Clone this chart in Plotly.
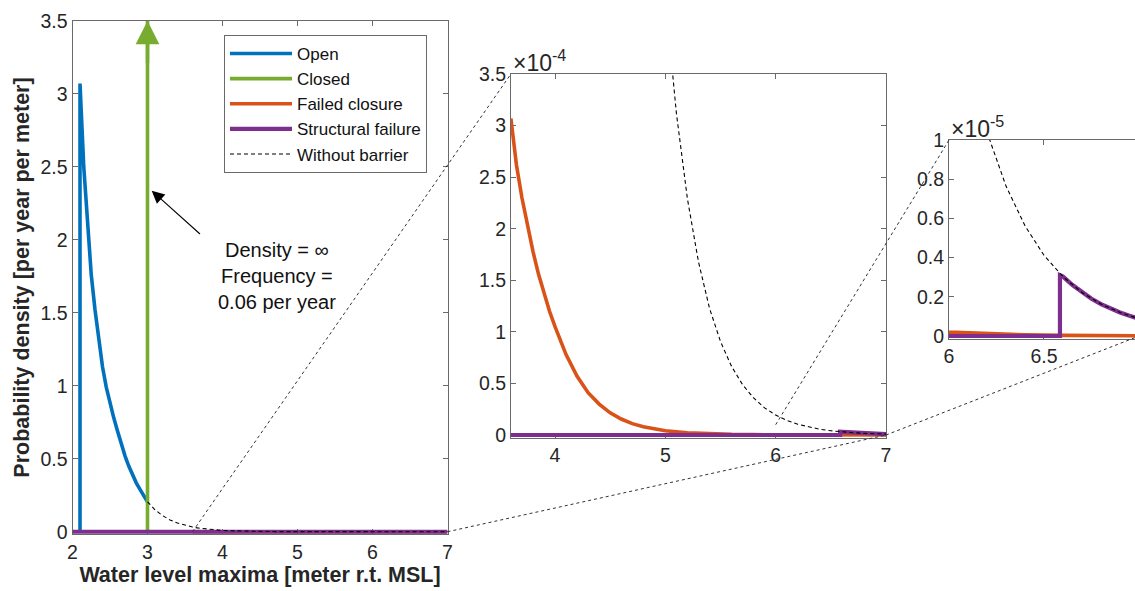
import plotly.graph_objects as go

FONT = "Liberation Sans, Arial, Helvetica, sans-serif"
W, H = 1135, 591

# ---------------- data ----------------
open_x = [2.10, 2.10, 2.15, 2.20, 2.25, 2.30, 2.35, 2.40, 2.45, 2.50, 2.55,
          2.60, 2.65, 2.70, 2.75, 2.80, 2.85, 2.90, 2.95, 3.00]
open_y = [0.0, 3.07, 2.50, 2.08, 1.76, 1.52, 1.30, 1.13, 0.99, 0.88, 0.78,
          0.69, 0.60, 0.52, 0.45, 0.39, 0.335, 0.29, 0.245, 0.205]

closed_x = [3.0, 3.0]
closed_y = [0.0, 3.5]

failed_x = [3.60, 3.65, 3.70, 3.75, 3.80, 3.85, 3.90, 3.95, 4.00, 4.10, 4.20,
            4.30, 4.40, 4.50, 4.60, 4.70, 4.80, 4.90, 5.00, 5.20, 5.40, 5.60,
            5.80, 6.00, 6.20, 6.40, 6.60, 6.80, 7.00]
failed_y = [3.07e-4, 2.62e-4, 2.30e-4, 2.02e-4, 1.78e-4, 1.56e-4, 1.37e-4,
            1.20e-4, 1.05e-4, 0.78e-4, 0.57e-4, 0.41e-4, 0.30e-4, 0.215e-4,
            0.155e-4, 0.11e-4, 0.08e-4, 0.057e-4, 0.041e-4, 0.021e-4,
            0.011e-4, 0.0060e-4, 0.0034e-4, 0.0020e-4, 0.0011e-4, 0.0006e-4,
            0.00032e-4, 0.00017e-4, 0.00009e-4]

struct_x = [2.0, 6.584, 6.584, 6.60, 6.65, 6.70, 6.75, 6.80, 6.85, 6.90, 6.95, 7.00]
struct_y = [0.0, 0.0, 3.10e-6, 3.03e-6, 2.60e-6, 2.22e-6, 1.90e-6, 1.63e-6,
            1.40e-6, 1.20e-6, 1.03e-6, 0.88e-6]

nobar_x = [3.0, 3.1, 3.2, 3.3, 3.4, 3.5, 3.6, 3.7, 3.8, 3.9, 4.0, 4.1, 4.2,
           4.3, 4.4, 4.5, 4.6, 4.7, 4.8, 4.9, 5.0, 5.1, 5.2, 5.3, 5.4, 5.5,
           5.6, 5.7, 5.8, 5.9, 6.0, 6.1, 6.2, 6.3, 6.4, 6.5, 6.6, 6.7, 6.8,
           6.9, 7.0]
nobar_y = [0.205, 0.1505, 0.1105, 0.0811, 0.0596, 0.0437, 0.0321, 0.0236,
           0.0173, 0.0127, 0.00933, 0.00685, 0.00503, 0.00369, 0.00271,
           0.00199, 0.00146, 0.00107, 7.87e-4, 5.78e-4, 4.24e-4, 3.12e-4,
           2.29e-4, 1.68e-4, 1.23e-4, 9.06e-5, 6.65e-5, 4.88e-5, 3.59e-5,
           2.63e-5, 1.93e-5, 1.42e-5, 1.04e-5, 7.65e-6, 5.62e-6, 4.12e-6,
           3.03e-6, 2.22e-6, 1.63e-6, 1.20e-6, 8.8e-7]

left_xticks = [2, 3, 4, 5, 6, 7]
left_yticks = [0, 0.5, 1, 1.5, 2, 2.5, 3, 3.5]
mid_xticks = [4, 5, 6, 7]
mid_yticks = [0, 0.5e-4, 1e-4, 1.5e-4, 2e-4, 2.5e-4, 3e-4, 3.5e-4]
mid_yticktext = ["0", "0.5", "1", "1.5", "2", "2.5", "3", "3.5"]
right_xticks = [6, 6.5, 7]
right_yticks = [0, 0.2e-5, 0.4e-5, 0.6e-5, 0.8e-5, 1e-5]
right_yticktext = ["0", "0.2", "0.4", "0.6", "0.8", "1"]

series_names = ["Open", "Closed", "Failed closure", "Structural failure", "Without barrier"]
colors = ["#0072BD", "#77AC30", "#D95319", "#7E2F8E", "#000000"]

# ---------------- panel geometry (pixels) ----------------
panels = {
    "1": dict(px=(72.5, 447.5), py=(534.3, 20.7), xr=[2, 7], yr=[-0.0175, 3.5]),
    "2": dict(px=(510.9, 886.0), py=(437.6, 74.0), xr=[3.6, 7], yr=[-0.025e-4, 3.5e-4]),
    "3": dict(px=(949.0, 1135.0), py=(338.5, 140.0), xr=[6, 6.979], yr=[-0.0127e-5, 1e-5]),
}
for p in panels.values():
    p["dx"] = [p["px"][0] / W, p["px"][1] / W]
    p["dy"] = [1 - p["py"][0] / H, 1 - p["py"][1] / H]


def to_paper(key, xv, yv):
    p = panels[key]
    fx = (xv - p["xr"][0]) / (p["xr"][1] - p["xr"][0])
    fy = (yv - p["yr"][0]) / (p["yr"][1] - p["yr"][0])
    return (p["dx"][0] + fx * (p["dx"][1] - p["dx"][0]),
            p["dy"][0] + fy * (p["dy"][1] - p["dy"][0]))


fig = go.Figure()

data = [(open_x, open_y), (closed_x, closed_y), (failed_x, failed_y),
        (struct_x, struct_y), (nobar_x, nobar_y)]

for key in ["1", "2", "3"]:
    xa = "x" if key == "1" else "x" + key
    ya = "y" if key == "1" else "y" + key
    for i, (xs, ys) in enumerate(data):
        if key != "1" and i == 1:
            continue
        if i == 4:
            line = dict(color=colors[i], width=1.1, dash="4px,3px")
        elif i == 3:
            line = dict(color=colors[i], width=4.2)
        else:
            line = dict(color=colors[i], width=3.6)
        fig.add_trace(go.Scatter(
            x=xs, y=ys, mode="lines", line=line, name=series_names[i],
            legendgroup=series_names[i], showlegend=(key == "1"),
            xaxis=xa, yaxis=ya, hoverinfo="skip"))

axis_common = dict(showline=True, linecolor="#6a6a6a", linewidth=1, mirror="ticks",
                   ticks="inside", ticklen=5, tickcolor="#6a6a6a", showgrid=False,
                   zeroline=False, automargin=False, layer="below traces",
                   tickfont=dict(family=FONT, size=19.5, color="#262626"))

p = panels["1"]
fig.update_layout(
    xaxis=dict(domain=p["dx"], range=p["xr"], tickvals=left_xticks, anchor="y",
               title=dict(text="<b>Water level maxima [meter r.t. MSL]</b>", standoff=5,
                          font=dict(family=FONT, size=21.5, color="#262626")),
               **axis_common),
    yaxis=dict(domain=p["dy"], range=p["yr"], tickvals=left_yticks, anchor="x",
               title=dict(text="<b>Probability density [per year per meter]</b>", standoff=4,
                          font=dict(family=FONT, size=21.5, color="#262626")),
               **axis_common),
)
p = panels["2"]
fig.update_layout(
    xaxis2=dict(domain=p["dx"], range=p["xr"], tickvals=mid_xticks, anchor="y2", **axis_common),
    yaxis2=dict(domain=p["dy"], range=p["yr"], tickvals=mid_yticks, ticktext=mid_yticktext,
                anchor="x2", **axis_common),
)
p = panels["3"]
ax3 = dict(axis_common)
ax3["mirror"] = False
fig.update_layout(
    xaxis3=dict(domain=p["dx"], range=p["xr"], tickvals=right_xticks, anchor="y3", **axis_common),
    yaxis3=dict(domain=p["dy"], range=p["yr"], tickvals=right_yticks, ticktext=right_yticktext,
                anchor="x3", **ax3),
)

# ---------------- annotations ----------------
ann = []
# green arrow head on "Closed"
ann.append(dict(x=3.0, y=3.5, ax=3.0, ay=3.2, xref="x", yref="y", axref="x", ayref="y",
                text="", showarrow=True, arrowhead=2, arrowsize=1.35, arrowwidth=3.5,
                arrowcolor=colors[1]))
# black pointer arrow
ann.append(dict(x=3.056, y=2.336, ax=3.72, ay=2.03, xref="x", yref="y", axref="x", ayref="y",
                text="", showarrow=True, arrowhead=2, arrowsize=2.3, arrowwidth=1.1,
                arrowcolor="#000000"))
ann.append(dict(x=4.73, y=2.02, xref="x", yref="y", xanchor="center", yanchor="top",
                text="Density = \u221e<br>Frequency =<br>0.06 per year", showarrow=False,
                align="center", font=dict(family=FONT, size=20, color="#111111")))
# exponent labels
for key, txt in [("2", "\u00d710<sup>-4</sup>"), ("3", "\u00d710<sup>-5</sup>")]:
    p = panels[key]
    ann.append(dict(x=p["dx"][0], y=p["dy"][1] - 0.006, xref="paper", yref="paper",
                    xanchor="left", yanchor="bottom", text=txt, showarrow=False,
                    font=dict(family=FONT, size=23, color="#262626")))
fig.update_layout(annotations=ann)

# ---------------- zoom connector lines ----------------
shapes = []
pairs = [
    (("1", 3.6, 3.5e-4), ("2", 3.6, 3.5e-4)),
    (("1", 7.0, 0.0), ("2", 7.0, 0.0)),
    (("2", 6.0, 1e-5), ("3", 6.0, 1e-5)),
    (("2", 7.0, 0.0), ("3", 7.0, 0.0)),
]
for a, b in pairs:
    x0, y0 = to_paper(*a)
    x1, y1 = to_paper(*b)
    shapes.append(dict(type="line", xref="paper", yref="paper", x0=x0, y0=y0, x1=x1, y1=y1,
                       line=dict(color="#333333", width=1, dash="dot")))
fig.update_layout(shapes=shapes)

fig.update_layout(
    width=W, height=H, margin=dict(l=0, r=0, t=0, b=0),
    paper_bgcolor="white", plot_bgcolor="white",
    showlegend=True,
    legend=dict(x=224 / W, y=1 - 35 / H, xanchor="left", yanchor="top",
                bgcolor="white", bordercolor="#6a6a6a", borderwidth=1,
                font=dict(family=FONT, size=17, color="#111111"),
                itemwidth=62, tracegroupgap=0, traceorder="normal"),
    font=dict(family=FONT),
)

fig.write_html("out.html")
